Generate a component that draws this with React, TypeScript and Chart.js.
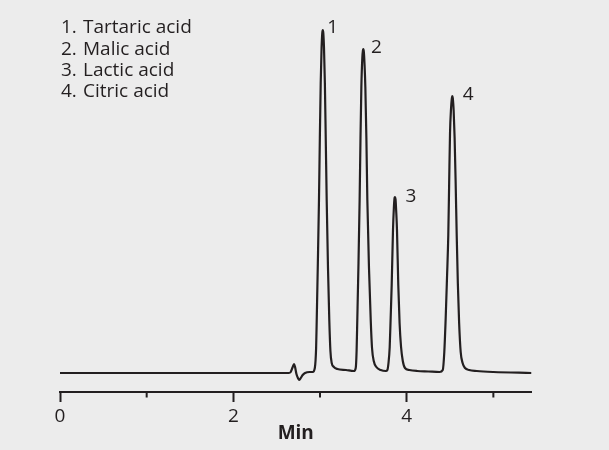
import React, { useEffect, useRef } from "react";
import { Chart, registerables } from "chart.js";

Chart.register(...registerables);

// Retention time (min)
const times: number[] = [
  0, 1.0, 2.0, 2.64, 2.662, 2.685, 2.7, 2.712, 2.728, 2.745, 2.761, 2.778, 2.8, 2.827, 2.88, 2.916,
  2.94, 2.955, 2.962, 2.975, 2.988, 2.998, 3.008, 3.018, 3.026, 3.032, 3.038, 3.046, 3.056, 3.066,
  3.077, 3.092, 3.107, 3.12, 3.135, 3.16, 3.2, 3.3, 3.39,
  3.412, 3.422, 3.43, 3.444, 3.457, 3.467, 3.477, 3.488, 3.496, 3.5, 3.506, 3.514, 3.523, 3.535,
  3.546, 3.565, 3.585, 3.6, 3.62, 3.65, 3.7, 3.76,
  3.777, 3.79, 3.804, 3.815, 3.827, 3.842, 3.852, 3.86, 3.865, 3.871, 3.88, 3.888, 3.903, 3.918,
  3.935, 3.955, 3.98, 4.03, 4.12, 4.25, 4.38,
  4.416, 4.434, 4.45, 4.465, 4.48, 4.49, 4.5, 4.512, 4.52, 4.526, 4.532, 4.542, 4.553, 4.565,
  4.577, 4.59, 4.605, 4.623, 4.645, 4.673, 4.72, 4.808, 5.0, 5.44,
];

// Detector response (arbitrary units)
const signal: number[] = [
  0, 0, 0, 0, 1, 6, 9, 6, -1, -5, -7, -5, -2, 0, 1, 1,
  5, 25, 53, 110, 173, 235, 290, 325, 340, 343, 340, 325, 290, 235,
  173, 105, 53, 22, 10, 6, 4, 3, 2,
  5, 22, 53, 110, 173, 235, 286, 315, 323, 324, 321, 308, 286, 235,
  173, 105, 53, 25, 12, 6, 3, 2,
  3, 10, 26, 55, 88, 143, 165, 175, 176, 174, 160, 143, 88, 50,
  26, 12, 5, 3, 2, 1.5, 1,
  3, 21, 55, 95, 138, 190, 240, 265, 274, 277, 275, 262, 235, 190,
  138, 90, 50, 21, 10, 5, 3, 2, 1, 0,
];

const peakTimes: number[] = [3.032, 3.5, 3.865, 4.526];
const peakLabels: string[] = ["1", "2", "3", "4"];
const compoundNames: string[] = ["Tartaric acid", "Malic acid", "Lactic acid", "Citric acid"];
const xTickLabels: string[] = ["0", "", "2", "", "4", ""];
const xTitle = "Min";

const INK = "#231f20";
const BG = "#ececec";
const FONT = '"Open Sans", sans-serif';

export default function App() {
  const ref = useRef<HTMLCanvasElement | null>(null);

  useEffect(() => {
    if (!ref.current) return;
    const labelOffsets = [
      [10, -2],
      [13, -1],
      [16, 0],
      [16, -1],
    ];
    const overlay = {
      id: "overlay",
      beforeDraw(chart: any) {
        const { ctx, width, height } = chart;
        ctx.save();
        ctx.fillStyle = BG;
        ctx.fillRect(0, 0, width, height);
        ctx.restore();
      },
      afterDraw(chart: any) {
        const { ctx } = chart;
        const xs = chart.scales.x;
        const ys = chart.scales.y;
        ctx.save();
        // minor ticks
        ctx.strokeStyle = INK;
        ctx.lineWidth = 2;
        xs.ticks.forEach((t: any) => {
          if (Math.round(t.value) % 2 !== 0) {
            const px = xs.getPixelForValue(t.value);
            ctx.beginPath();
            ctx.moveTo(px, xs.top);
            ctx.lineTo(px, xs.top + 5.5);
            ctx.stroke();
          }
        });
        // legend text
        ctx.fillStyle = INK;
        ctx.font = `19px ${FONT}`;
        ctx.textBaseline = "middle";
        ctx.textAlign = "left";
        compoundNames.forEach((name, i) => {
          const y = 28 + i * 21.3;
          ctx.fillText(`${i + 1}.`, 61, y);
          ctx.fillText(name, 83, y);
        });
        // peak labels
        ctx.textAlign = "center";
        peakTimes.forEach((pt, i) => {
          let best = -Infinity;
          let bt = pt;
          times.forEach((t, j) => {
            if (Math.abs(t - pt) < 0.05 && signal[j] > best) {
              best = signal[j];
              bt = t;
            }
          });
          const px = xs.getPixelForValue(bt) + labelOffsets[i][0];
          const py = ys.getPixelForValue(best) + labelOffsets[i][1];
          ctx.fillText(peakLabels[i], px, py);
        });
        ctx.restore();
      },
    };

    const chart = new Chart(ref.current, {
      type: "line",
      data: {
        datasets: [
          {
            data: times.map((t, i) => ({ x: t, y: signal[i] })),
            borderColor: INK,
            borderWidth: 2.2,
            pointRadius: 0,
            cubicInterpolationMode: "monotone",
            fill: false,
          },
        ],
      },
      options: {
        animation: false,
        responsive: false,
        events: [],
        layout: { padding: { left: 60, right: 77.5, top: 20, bottom: 0 } },
        plugins: {
          legend: { display: false },
          tooltip: { enabled: false },
          title: { display: false },
        },
        scales: {
          x: {
            type: "linear",
            min: 0,
            max: 5.44,
            afterFit: (scale: any) => {
              scale.height = 58;
            },
            border: { display: true, color: INK, width: 2 },
            grid: {
              display: true,
              drawOnChartArea: false,
              drawTicks: true,
              tickLength: 10,
              tickWidth: 2,
              tickColor: (c: any) =>
                c.tick && Math.round(c.tick.value) % 2 === 0 ? INK : "rgba(0,0,0,0)",
            },
            ticks: {
              stepSize: 1,
              includeBounds: false,
              autoSkip: false,
              maxRotation: 0,
              padding: 3,
              color: INK,
              font: { family: FONT, size: 19 },
              callback: (v: any) => xTickLabels[Math.round(Number(v))] ?? "",
            },
            title: {
              display: true,
              text: xTitle,
              color: INK,
              font: { family: FONT, size: 19, weight: "bold" },
              padding: { top: 0, bottom: 5 },
            },
          },
          y: {
            display: false,
            min: -19,
            max: 353,
          },
        },
      },
      plugins: [overlay],
    });
    return () => chart.destroy();
  }, []);

  return (
    <div
      style={{
        position: "fixed",
        left: 0,
        top: 0,
        width: 609,
        height: 450,
        background: BG,
      }}
    >
      <canvas ref={ref} width={609} height={450} />
    </div>
  );
}
